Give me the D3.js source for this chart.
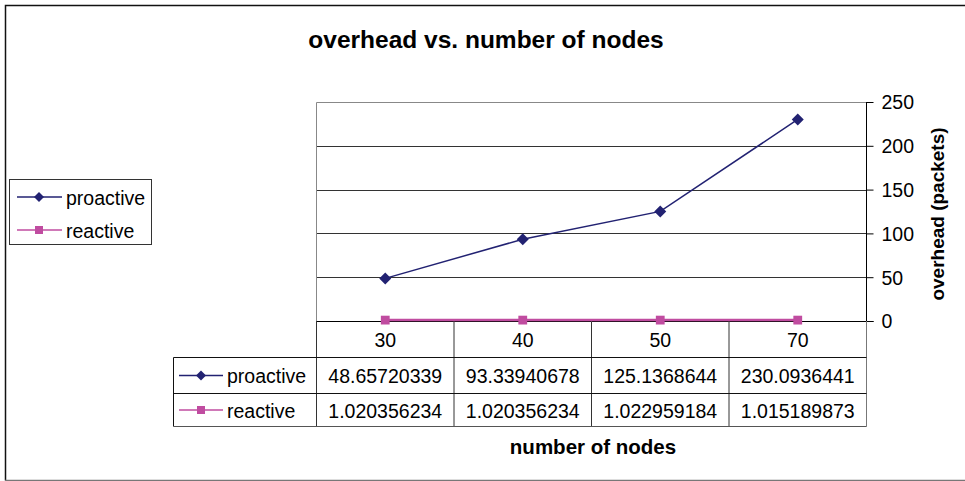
<!DOCTYPE html>
<html><head><meta charset="utf-8">
<script src="https://cdn.jsdelivr.net/npm/d3@7"></script>
<style>body{margin:0;background:#fff}svg{display:block;font-family:"Liberation Sans",Arial,sans-serif}</style>
</head><body>
<svg id="c" width="965" height="481"></svg>
<script>
const categories = ["30", "40", "50", "70"];
const seriesNames = ["proactive", "reactive"];
const proactive = [48.65720339, 93.33940678, 125.1368644, 230.0936441];
const reactive = [1.020356234, 1.020356234, 1.022959184, 1.015189873];
const proactiveText = ["48.65720339", "93.33940678", "125.1368644", "230.0936441"];
const reactiveText = ["1.020356234", "1.020356234", "1.022959184", "1.015189873"];
const yTicks = [0, 50, 100, 150, 200, 250];

const series = [
  {name: seriesNames[0], values: proactive, text: proactiveText, color: "#222272", marker: "diamond"},
  {name: seriesNames[1], values: reactive, text: reactiveText, color: "#c04ca0", marker: "square"}
];

const FS = 19.5;
const svg = d3.select("#c");
const L = 316.5, R = 866.5, T = 102, B = 321;
const x = d3.scaleBand().domain(categories).range([L, R]);
const y = d3.scaleLinear().domain([0, 250]).range([B, T]);

// outer border
svg.append("path").attr("d", `M965,5.5 H5.5 V480.5`).attr("fill","none").attr("stroke","#111").attr("stroke-width",1.5);
svg.append("line").attr("x1",5).attr("x2",965).attr("y1",480.5).attr("y2",480.5).attr("stroke","#777").attr("stroke-width",1.5);

// title
svg.append("text").attr("x", 486).attr("y", 48).attr("text-anchor","middle")
  .attr("font-size", 24.5).attr("font-weight","bold").text("overhead vs. number of nodes");

// gridlines
svg.append("g").selectAll("line").data(yTicks.filter(d => d > 0 && d < 250)).join("line")
  .attr("x1", L).attr("x2", R).attr("y1", d => Math.round(y(d)) + 0.5).attr("y2", d => Math.round(y(d)) + 0.5)
  .attr("stroke", "#333").attr("stroke-width", 1);
// plot border (top & left)
svg.append("path").attr("d", `M${L},${B} V${T+0.5} H${R}`).attr("fill","none").attr("stroke","#888").attr("stroke-width",1);

// right axis
const yAxis = d3.axisRight(y).tickValues(yTicks).tickSize(7).tickPadding(8).tickFormat(d3.format("d"));
const ag = svg.append("g").attr("transform", `translate(${R},0)`).call(yAxis);
ag.select(".domain").attr("stroke","#000").attr("d", `M0,${T}V${B}`);
ag.selectAll(".tick line").attr("stroke","#000");
ag.selectAll(".tick text").attr("font-size", FS).attr("font-family", "Liberation Sans, Arial, sans-serif").attr("fill","#000").attr("dy","0.35em");

svg.append("text").attr("transform", `translate(944,214) rotate(-90)`).attr("text-anchor","middle")
  .attr("font-size", 19).attr("font-weight","bold").text("overhead (packets)");

// zero line
svg.append("line").attr("x1", L).attr("x2", R + 7).attr("y1", B + 0.5).attr("y2", B + 0.5).attr("stroke","#000");

// table
const rowY = [B, 357.5, 393.5, 426.5];
const tL = 173.5;
const tg = svg.append("g");
const vx = [L, ...categories.map(c => x(c) + x.bandwidth())];
tg.selectAll("line.v").data(vx).join("line").attr("class","v")
  .attr("x1", d => d).attr("x2", d => d).attr("y1", B).attr("y2", rowY[3])
  .attr("stroke", (d,i) => i === vx.length - 1 ? "#777" : "#333");
tg.append("line").attr("x1", tL).attr("x2", tL).attr("y1", rowY[1]).attr("y2", rowY[3]).attr("stroke","#111");
[1,2,3].forEach(i => tg.append("line").attr("x1", tL).attr("x2", R).attr("y1", rowY[i]).attr("y2", rowY[i])
  .attr("stroke", i === 3 ? "#555" : "#111"));
tg.selectAll("text.h").data(categories).join("text").attr("class","h")
  .attr("x", d => x(d) + x.bandwidth()/2).attr("y", (rowY[0] + rowY[1]) / 2 + 1).attr("dy","0.35em")
  .attr("text-anchor","middle").attr("font-size",FS).text(d => d);

function marker(g, type, cx, cy, color, s) {
  if (type === "diamond") {
    g.append("path").attr("d", `M${cx},${cy-s} L${cx+s},${cy} L${cx},${cy+s} L${cx-s},${cy} Z`).attr("fill", color);
  } else {
    g.append("rect").attr("x", cx - s*0.8).attr("y", cy - s*0.8).attr("width", s*1.6).attr("height", s*1.6).attr("fill", color);
  }
}

series.forEach((s, si) => {
  const cy = (rowY[si+1] + rowY[si+2]) / 2 + 1;
  tg.append("line").attr("x1", 179).attr("x2", 223).attr("y1", cy - 1).attr("y2", cy - 1).attr("stroke", s.color).attr("stroke-width", 1.3);
  marker(tg, s.marker, 201, cy - 1, s.color, 5);
  tg.append("text").attr("x", 227).attr("y", cy).attr("dy","0.35em").attr("font-size",FS).text(s.name);
  tg.selectAll(null).data(s.text).join("text")
    .attr("x", (d,i) => x(categories[i]) + x.bandwidth()/2).attr("y", cy).attr("dy","0.35em")
    .attr("text-anchor","middle").attr("font-size",FS).text(d => d);
});

svg.append("text").attr("x", 593).attr("y", 454).attr("text-anchor","middle")
  .attr("font-size", 20.5).attr("font-weight","bold").text("number of nodes");

// series lines
const line = d3.line().x((d,i) => x(categories[i]) + x.bandwidth()/2).y(d => y(d));
series.forEach(s => {
  const g = svg.append("g");
  g.append("path").datum(s.values).attr("d", line).attr("fill","none").attr("stroke", s.color).attr("stroke-width", s.marker === "square" ? 2.5 : 1.5);
  s.values.forEach((v, i) => marker(g, s.marker, x(categories[i]) + x.bandwidth()/2, y(v), s.color, s.marker === "diamond" ? 6 : 5.5));
});

// legend
const lg = svg.append("g");
lg.append("rect").attr("x", 9.5).attr("y", 179.5).attr("width", 142).attr("height", 65).attr("fill","#fff").attr("stroke","#333");
series.forEach((s, i) => {
  const cy = 197 + i * 33;
  lg.append("line").attr("x1", 17).attr("x2", 62).attr("y1", cy).attr("y2", cy).attr("stroke", s.color).attr("stroke-width", 1.3);
  marker(lg, s.marker, 39, cy, s.color, 5);
  lg.append("text").attr("x", 66).attr("y", cy + 1).attr("dy","0.35em").attr("font-size",FS).text(s.name);
});
</script>
</body></html>
